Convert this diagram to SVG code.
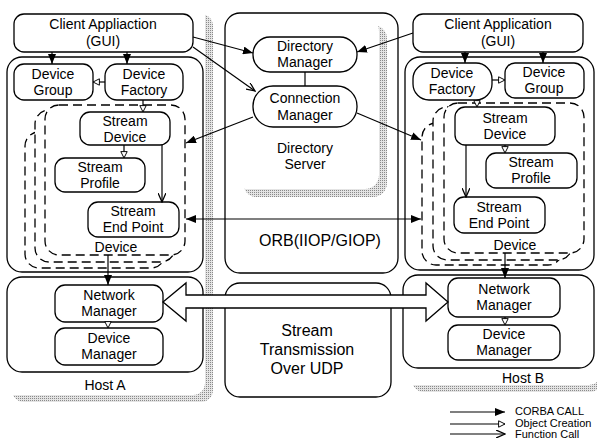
<svg xmlns="http://www.w3.org/2000/svg" width="597" height="446" viewBox="0 0 597 446">
<style>
.box{fill:#fff;stroke:#000;stroke-width:1.3}
.dash{fill:#fff;stroke:#000;stroke-width:1.3;stroke-dasharray:9 5}
.t{font-family:"Liberation Sans",Arial,sans-serif;font-size:14px;text-anchor:middle;fill:#000}
.big{font-size:16px}
.lg{font-size:11px;text-anchor:start}
.c{stroke:#000;stroke-width:1.2;fill:none}
.sh{fill:url(#dots)}
.wh{fill:#fff}
</style>
<defs>
<pattern id="dots" width="2" height="2" patternUnits="userSpaceOnUse"><rect width="2" height="2" fill="#e4e4e4"/><rect width="1" height="1" fill="#8a8a8a"/></pattern>
<marker id="corba" viewBox="0 0 10 8" refX="10" refY="4" markerWidth="10" markerHeight="8" markerUnits="userSpaceOnUse" orient="auto-start-reverse"><path d="M0,0 L10,4 L0,8 z" fill="#000"/></marker>
<marker id="create" viewBox="0 0 10 10" refX="9" refY="5" markerWidth="8" markerHeight="8" markerUnits="userSpaceOnUse" orient="auto"><path d="M1,1 L9,5 L1,9 z" fill="#fff" stroke="#000" stroke-width="1.2"/></marker>
<marker id="func" viewBox="0 0 10 8" refX="9" refY="4" markerWidth="10" markerHeight="8" markerUnits="userSpaceOnUse" orient="auto"><path d="M0,0 L9,4 L0,8" fill="none" stroke="#000" stroke-width="1.3"/></marker>
</defs>
<rect width="597" height="446" fill="#fff"/>

<g id="shadows">
<rect class="sh" x="12" y="14" width="201" height="388" rx="12"/>
<rect class="wh" x="0" y="0" width="205" height="395" rx="12"/>
<rect class="sh" x="412" y="40" width="190" height="352" rx="12"/>
<rect class="wh" x="401" y="8" width="200" height="377" rx="12"/>
</g>

<g id="hostA">
<rect class="box" x="7" y="57" width="196" height="215" rx="15"/>
<rect class="box" x="7" y="277" width="196" height="95" rx="15"/>
<text class="t" x="105" y="390">Host A</text>
</g>
<g id="clientA">
<rect class="box" x="14" y="14" width="179" height="38" rx="10"/>
<text class="t" x="103" y="29">Client Appliaction</text>
<text class="t" x="103" y="46">(GUI)</text>
</g>
<g id="deviceGroupA">
<rect class="box" x="14" y="64" width="79" height="36" rx="10"/>
<text class="t" x="53" y="79">Device</text>
<text class="t" x="53" y="95">Group</text>
</g>
<g id="deviceFactoryA">
<rect class="box" x="105" y="64" width="78" height="36" rx="12"/>
<text class="t" x="144" y="79">Device</text>
<text class="t" x="144" y="95">Factory</text>
</g>
<g id="deviceA">
<rect class="dash" x="25" y="132" width="140" height="136" rx="14"/>
<rect class="dash" x="35" y="110" width="140" height="152" rx="14"/>
<rect class="dash" x="45" y="105" width="140" height="150" rx="14"/>
<text class="t" x="116" y="252">Device</text>
</g>
<g id="streamDeviceA">
<rect class="box" x="80" y="112" width="90" height="33" rx="10"/>
<text class="t" x="125" y="126">Stream</text>
<text class="t" x="125" y="142">Device</text>
</g>
<g id="streamProfileA">
<rect class="box" x="55" y="158" width="90" height="34" rx="10"/>
<text class="t" x="100" y="172">Stream</text>
<text class="t" x="100" y="188">Profile</text>
</g>
<g id="streamEndPointA">
<rect class="box" x="88" y="202" width="91" height="35" rx="10"/>
<text class="t" x="133" y="216">Stream</text>
<text class="t" x="133" y="232">End Point</text>
</g>
<g id="networkManagerA">
<rect class="box" x="55" y="285" width="108" height="37" rx="10"/>
<text class="t" x="109" y="300">Network</text>
<text class="t" x="109" y="316">Manager</text>
</g>
<g id="deviceManagerA">
<rect class="box" x="55" y="328" width="108" height="37" rx="10"/>
<text class="t" x="109" y="343">Device</text>
<text class="t" x="109" y="359">Manager</text>
</g>

<g id="directoryServer">
<rect class="box" x="225" y="13" width="173" height="260" rx="15"/>
<rect class="sh" x="243" y="25" width="144" height="172" rx="14"/>
<rect class="wh" x="232" y="17" width="147" height="172" rx="14"/>
<text class="t" x="305" y="153">Directory</text>
<text class="t" x="305" y="169">Server</text>
<text class="t big" x="320" y="246">ORB(IIOP/GIOP)</text>
</g>
<g id="directoryManager">
<rect class="box" x="253" y="37" width="104" height="35" rx="17"/>
<text class="t" x="305" y="51">Directory</text>
<text class="t" x="305" y="67">Manager</text>
</g>
<g id="connectionManager">
<rect class="box" x="253" y="86" width="104" height="41" rx="20"/>
<text class="t" x="305" y="103">Connection</text>
<text class="t" x="305" y="120">Manager</text>
</g>
<g id="streamTransmission">
<rect class="box" x="225" y="283" width="166" height="114" rx="15"/>
<text class="t big" x="307" y="336">Stream</text>
<text class="t big" x="307" y="355">Transmission</text>
<text class="t big" x="307" y="374">Over UDP</text>
</g>

<g id="hostB">
<rect class="box" x="405" y="57" width="189" height="213" rx="15"/>
<rect class="box" x="403" y="275" width="191" height="93" rx="15"/>
<text class="t" x="523" y="383">Host B</text>
</g>
<g id="clientB">
<rect class="box" x="413" y="14" width="170" height="38" rx="10"/>
<text class="t" x="498" y="29">Client Application</text>
<text class="t" x="498" y="46">(GUI)</text>
</g>
<g id="deviceFactoryB">
<rect class="box" x="413" y="63" width="79" height="37" rx="16"/>
<text class="t" x="452" y="78">Device</text>
<text class="t" x="452" y="94">Factory</text>
</g>
<g id="deviceGroupB">
<rect class="box" x="505" y="63" width="79" height="35" rx="10"/>
<text class="t" x="544" y="77">Device</text>
<text class="t" x="544" y="93">Group</text>
</g>
<g id="deviceB">
<rect class="dash" x="422" y="123" width="140" height="142" rx="14"/>
<rect class="dash" x="433" y="107" width="139" height="153" rx="14"/>
<rect class="dash" x="444" y="103" width="140" height="150" rx="14"/>
<text class="t" x="515" y="250">Device</text>
</g>
<g id="streamDeviceB">
<rect class="box" x="455" y="107" width="100" height="38" rx="10"/>
<text class="t" x="505" y="123">Stream</text>
<text class="t" x="505" y="139">Device</text>
</g>
<g id="streamProfileB">
<rect class="box" x="486" y="153" width="91" height="35" rx="10"/>
<text class="t" x="531" y="167">Stream</text>
<text class="t" x="531" y="183">Profile</text>
</g>
<g id="streamEndPointB">
<rect class="box" x="454" y="197" width="91" height="36" rx="10"/>
<text class="t" x="499" y="212">Stream</text>
<text class="t" x="499" y="228">End Point</text>
</g>
<g id="networkManagerB">
<rect class="box" x="448" y="278" width="112" height="39" rx="10"/>
<text class="t" x="504" y="294">Network</text>
<text class="t" x="504" y="310">Manager</text>
</g>
<g id="deviceManagerB">
<rect class="box" x="448" y="325" width="112" height="35" rx="10"/>
<text class="t" x="504" y="339">Device</text>
<text class="t" x="504" y="355">Manager</text>
</g>

<g id="connectors">
<line class="c" x1="52" y1="52" x2="52" y2="64" marker-end="url(#corba)"/>
<line class="c" x1="127" y1="52" x2="127" y2="64" marker-end="url(#corba)"/>
<line class="c" x1="105" y1="82" x2="93" y2="82" marker-end="url(#create)"/>
<line class="c" x1="143" y1="100" x2="143" y2="112" marker-end="url(#create)"/>
<line class="c" x1="124" y1="145" x2="124" y2="158" marker-end="url(#create)"/>
<line class="c" x1="162" y1="145" x2="162" y2="202" marker-end="url(#func)"/>
<line class="c" x1="108" y1="255" x2="108" y2="285" marker-end="url(#corba)"/>
<line class="c" x1="108" y1="322" x2="108" y2="328" marker-end="url(#create)"/>

<line class="c" x1="193" y1="37" x2="253" y2="53" marker-end="url(#corba)"/>
<line class="c" x1="193" y1="47" x2="255" y2="91" marker-end="url(#func)"/>
<line class="c" x1="413" y1="33" x2="357" y2="52" marker-end="url(#corba)"/>
<line class="c" x1="305" y1="72" x2="305" y2="86"/>
<line class="c" x1="253" y1="117" x2="186" y2="143" marker-end="url(#corba)"/>
<line class="c" x1="357" y1="113" x2="421" y2="140" marker-end="url(#corba)"/>
<line class="c" x1="186" y1="219" x2="421" y2="219" marker-start="url(#corba)" marker-end="url(#corba)"/>

<line class="c" x1="465" y1="52" x2="465" y2="63" marker-end="url(#corba)"/>
<line class="c" x1="543" y1="52" x2="543" y2="63" marker-end="url(#corba)"/>
<line class="c" x1="492" y1="80" x2="505" y2="80" marker-end="url(#create)"/>
<line class="c" x1="477" y1="100" x2="477" y2="107" marker-end="url(#create)"/>
<line class="c" x1="505" y1="145" x2="505" y2="153" marker-end="url(#create)"/>
<line class="c" x1="466" y1="145" x2="466" y2="197" marker-end="url(#func)"/>
<line class="c" x1="505" y1="253" x2="505" y2="278" marker-end="url(#corba)"/>
<line class="c" x1="505" y1="317" x2="505" y2="325" marker-end="url(#create)"/>

<polygon points="163,302 186,283 186,295 426,295 426,283 448,302 426,321 426,308 186,308 186,321" fill="#fff" stroke="#000" stroke-width="1.3" stroke-linejoin="miter"/>
</g>

<g id="legend">
<line class="c" x1="450" y1="412" x2="505" y2="412" marker-end="url(#corba)"/>
<line class="c" x1="450" y1="424" x2="505" y2="424" marker-end="url(#create)"/>
<line class="c" x1="450" y1="434" x2="505" y2="434" stroke-width="2" marker-end="url(#func)"/>
<text class="t lg" x="515" y="415">CORBA CALL</text>
<text class="t lg" x="515" y="427">Object Creation</text>
<text class="t lg" x="515" y="438">Function Call</text>
</g>
</svg>
